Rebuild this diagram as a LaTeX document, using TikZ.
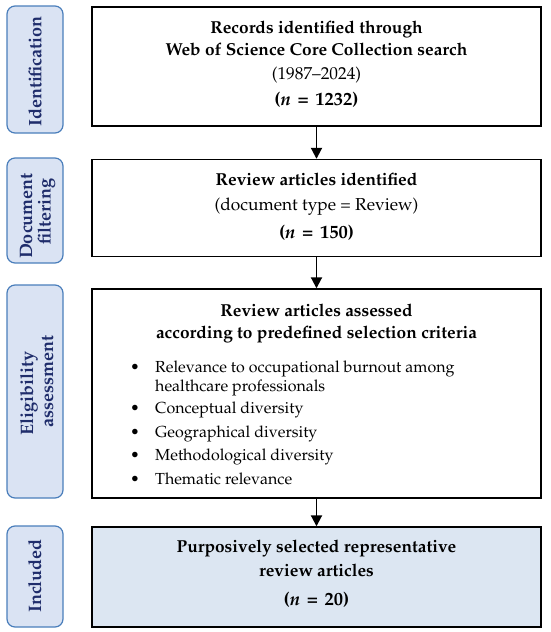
\documentclass[tikz,border=0pt]{standalone}
\usepackage[T1]{fontenc}
\usepackage{mathpazo}
\usetikzlibrary{arrows.meta}
\definecolor{lblfill}{HTML}{DAE3F3}
\definecolor{lbldraw}{HTML}{4A7EBB}
\definecolor{lbltext}{HTML}{1F2D6B}
\definecolor{incfill}{HTML}{DCE6F2}
\newcommand{\eqsp}{\hspace{0.36em}=\hspace{0.36em}}
\tikzset{
  lblbox/.style={draw=lbldraw, fill=lblfill, line width=1.2pt, rounded corners=8pt,
    minimum width=56pt, inner sep=0pt},
  lbltxt/.style={rotate=90, anchor=base, text=lbltext, font=\fontsize{18}{20}\selectfont\bfseries, inner sep=0pt},
  mainbox/.style={draw=black, line width=1.4pt, minimum width=449pt, inner sep=0pt},
  txt/.style={font=\fontsize{17.3}{18}\selectfont, inner sep=0pt, anchor=base},
  btxt/.style={txt, font=\fontsize{17.3}{18}\selectfont\bfseries},
  ntxt/.style={txt, font=\fontsize{18.5}{20}\selectfont\bfseries},
  itm/.style={font=\fontsize{16}{18}\selectfont, inner sep=0pt, anchor=base west},
  arr/.style={line width=1.9pt, -{Triangle[length=11pt,width=11pt]}}
}
\begin{document}
\begin{tikzpicture}[x=1pt,y=-1pt]
\useasboundingbox (0,0) rectangle (550,632);
% left labels
\node[lblbox, minimum height=127pt] (l1) at (35,69.5) {};
\node[lbltxt] (l1t) at (41.5,71.5) {Identification};
\node[lblbox, minimum height=105pt] (l2) at (35,210.5) {};
\node[lbltxt] (l2a) at (32,216) {Document};
\node[lbltxt] (l2b) at (50.5,211.5) {filtering};
\node[lblbox, minimum height=213pt] (l3) at (35,391.5) {};
\node[lbltxt] (l3a) at (33,393.5) {Eligibility};
\node[lbltxt] (l3b) at (53,381.5) {assessment};
\node[lblbox, minimum height=101pt] (l4) at (35,576.5) {};
\node[lbltxt] (l4t) at (41,576) {Included};
% main boxes
\node[mainbox, minimum height=119pt] (b1) at (316.5,66.5) {};
\node[mainbox, minimum height=97pt] (b2) at (316.5,208) {};
\node[mainbox, minimum height=209pt] (b3) at (316.5,393.5) {};
\node[mainbox, fill=incfill, minimum height=100pt] (b4) at (316.5,577) {};
% box 1 text
\node[btxt] (t11) at (316.5,33) {Records identified through};
\node[btxt] (t12) at (316.5,55) {Web of Science Core Collection search};
\node[txt] (t13) at (316.5,79) {(1987--2024)};
\node[ntxt] (t14) at (316.5,105) {(\textit{n}\eqsp1232)};
% box 2 text
\node[btxt] (t21) at (316.5,185) {Review articles identified};
\node[txt] (t22) at (316.5,210) {(document type = Review)};
\node[ntxt] (t23) at (316.5,238) {(\textit{n}\eqsp150)};
% box 3 text
\node[btxt] (t31) at (316.5,316) {Review articles assessed};
\node[btxt] (t32) at (316.5,338) {according to predefined selection criteria};
\node[itm] (i1b) at (130,372) {\textbullet};
\node[itm] (i1) at (155,372) {Relevance to occupational burnout among};
\node[itm] (i1c) at (155,391) {healthcare professionals};
\node[itm] (i2b) at (130,413) {\textbullet};
\node[itm] (i2) at (155,413) {Conceptual diversity};
\node[itm] (i3b) at (130,437) {\textbullet};
\node[itm] (i3) at (155,437) {Geographical diversity};
\node[itm] (i4b) at (130,460) {\textbullet};
\node[itm] (i4) at (155,460) {Methodological diversity};
\node[itm] (i5b) at (130,484) {\textbullet};
\node[itm] (i5) at (155,484) {Thematic relevance};
% box 4 text
\node[btxt] (t41) at (316.5,552) {Purposively selected representative};
\node[btxt] (t42) at (316.5,576) {review articles};
\node[ntxt] (t43) at (316.5,605) {(\textit{n}\eqsp20)};
% arrows
\draw[arr] (b1.south) -- (b2.north);
\draw[arr] (b2.south) -- (b3.north);
\draw[arr] (b3.south) -- (b4.north);
\end{tikzpicture}
\end{document}
